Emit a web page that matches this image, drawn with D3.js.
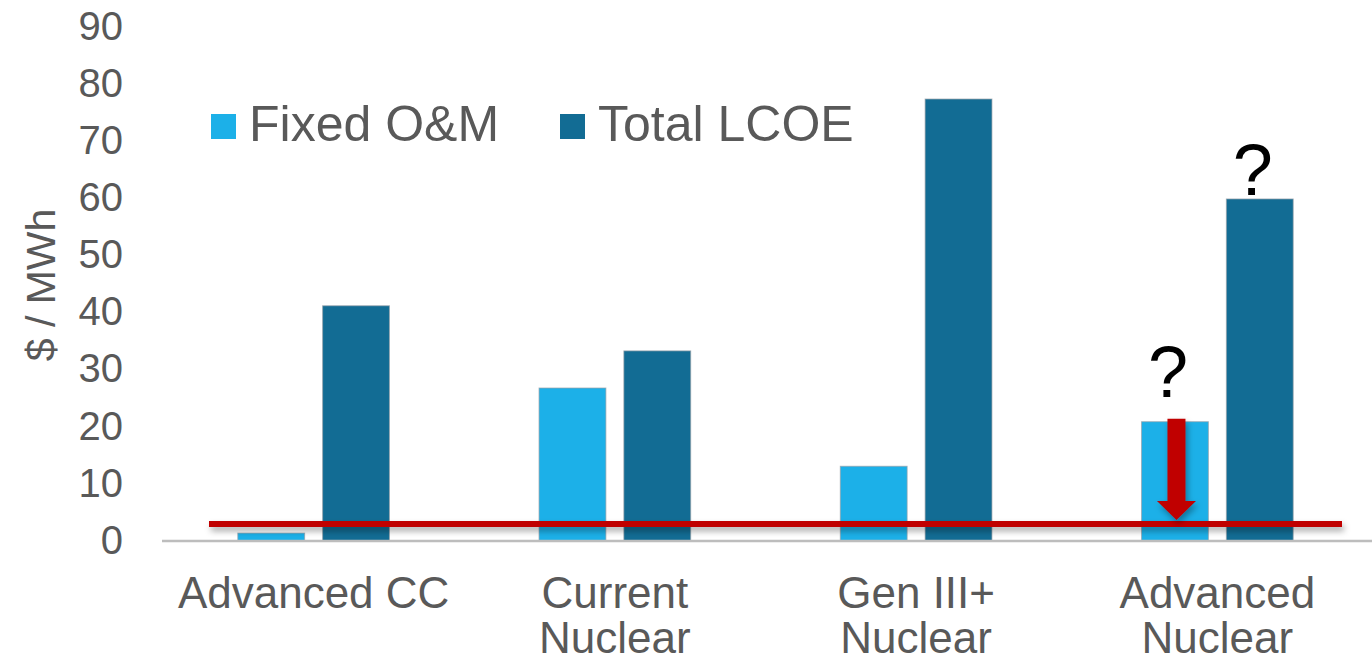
<!DOCTYPE html>
<html>
<head>
<meta charset="utf-8">
<script src="https://cdn.jsdelivr.net/npm/d3@7"></script>
<style>
  html, body { margin: 0; padding: 0; background: #ffffff; }
  svg { display: block; font-family: "Liberation Sans", Arial, sans-serif; }
</style>
</head>
<body>
<svg id="chart" width="1372" height="661"></svg>
<script>
// Cost components per technology ($ / MWh)
const categories = ["Advanced CC", "Current Nuclear", "Gen III+ Nuclear", "Advanced Nuclear"];
const categoryLines = [["Advanced CC"], ["Current", "Nuclear"], ["Gen III+", "Nuclear"], ["Advanced", "Nuclear"]];
const seriesNames = ["Fixed O&M", "Total LCOE"];
const fixedOM = [1.3, 26.7, 13.0, 20.8];
const totalLCOE = [41.1, 33.2, 77.3, 59.8];
const yTicks = [0, 10, 20, 30, 40, 50, 60, 70, 80, 90];
// Target level for fixed O&M
const targetLevel = 2.9;
const colors = ["#1cb0e8", "#126c94"];

const svg = d3.select("#chart");
const textGray = "#595959";

const y = d3.scaleLinear().domain([0, 90]).range([540.5, 26.5]);
const x0 = d3.scaleBand().domain(categories).range([163, 1368]).padding(0);
const x1 = d3.scaleBand().domain(seriesNames).range([0, x0.bandwidth()])
  .paddingInner(0.212).paddingOuter(0.882);

// Drop shadow used by the red annotations (user-space region so thin lines still render)
const defs = svg.append("defs");
const f = defs.append("filter").attr("id", "shadow")
  .attr("filterUnits", "userSpaceOnUse")
  .attr("x", 0).attr("y", 0).attr("width", 1372).attr("height", 661);
f.append("feDropShadow").attr("dx", 2).attr("dy", 4).attr("stdDeviation", 3)
  .attr("flood-color", "#000").attr("flood-opacity", 0.35);

// Y axis tick labels
const yAxis = svg.append("g").attr("transform", "translate(123,0)")
  .call(d3.axisLeft(y).tickValues(yTicks).tickSize(0).tickPadding(0));
yAxis.select(".domain").remove();
yAxis.selectAll("text")
  .attr("fill", textGray)
  .style("font-size", "40px")
  .style("font-family", "'Liberation Sans', Arial, sans-serif");

// Y axis title
svg.append("text")
  .attr("transform", "translate(55,285) rotate(-90)")
  .attr("text-anchor", "middle")
  .attr("fill", textGray)
  .style("font-size", "41px")
  .text("$ / MWh");

// Bars
const rows = categories.map((c, i) => ({ cat: c, values: [fixedOM[i], totalLCOE[i]] }));
const groups = svg.append("g").selectAll("g").data(rows).join("g")
  .attr("transform", d => `translate(${x0(d.cat)},0)`);
groups.selectAll("rect")
  .data(d => d.values.map((v, k) => ({ key: seriesNames[k], v, k })))
  .join("rect")
  .attr("x", d => x1(d.key))
  .attr("width", x1.bandwidth())
  .attr("y", d => y(d.v))
  .attr("height", d => y(0) - y(d.v))
  .attr("fill", d => colors[d.k])
  .attr("stroke", "rgba(150,160,168,0.7)")
  .attr("stroke-width", 1);

// Baseline
svg.append("line")
  .attr("x1", 162).attr("x2", 1372)
  .attr("y1", y(0) + 0.5).attr("y2", y(0) + 0.5)
  .attr("stroke", "#bdbdbd").attr("stroke-width", 2.5);

// Category labels
const xAxis = svg.append("g").attr("transform", `translate(0,${y(0)})`)
  .call(d3.axisBottom(x0).tickSize(0).tickFormat(""));
xAxis.select(".domain").remove();
xAxis.selectAll(".tick").each(function(d, i) {
  const t = d3.select(this).append("text")
    .attr("text-anchor", "middle")
    .attr("fill", textGray)
    .style("font-size", "44px")
    .style("font-family", "'Liberation Sans', Arial, sans-serif");
  categoryLines[i].forEach((line, j) => {
    t.append("tspan").attr("x", 0).attr("y", 67.5 + j * 45).text(line);
  });
});

// Target line
svg.append("line")
  .attr("x1", 209).attr("x2", 1342)
  .attr("y1", y(targetLevel)).attr("y2", y(targetLevel))
  .attr("stroke", "#c00000").attr("stroke-width", 6)
  .attr("filter", "url(#shadow)");

// Arrow from the advanced nuclear fixed O&M down to the target
const last = categories.length - 1;
const ax = x0(categories[last]) + x1(seriesNames[0]) + x1.bandwidth() / 2 + 1.5;
const aTop = y(fixedOM[last]) - 3;
const aTip = y(targetLevel) - 4;
const shaftW = 18, headW = 39, headL = 19;
const arrowPath = d3.path();
arrowPath.moveTo(ax - shaftW / 2, aTop);
arrowPath.lineTo(ax + shaftW / 2, aTop);
arrowPath.lineTo(ax + shaftW / 2, aTip - headL);
arrowPath.lineTo(ax + headW / 2, aTip - headL);
arrowPath.lineTo(ax, aTip);
arrowPath.lineTo(ax - headW / 2, aTip - headL);
arrowPath.lineTo(ax - shaftW / 2, aTip - headL);
arrowPath.closePath();
svg.append("path").attr("d", arrowPath.toString())
  .attr("fill", "#c00000").attr("filter", "url(#shadow)");

// Question marks over the advanced nuclear bars
const qOffsets = [25, 4];
[fixedOM[last], totalLCOE[last]].forEach((v, k) => {
  svg.append("text")
    .attr("x", x0(categories[last]) + x1(seriesNames[k]) + x1.bandwidth() / 2 - 7)
    .attr("y", y(v) - qOffsets[k])
    .attr("text-anchor", "middle")
    .attr("fill", "#000")
    .style("font-size", "72px")
    .text("?");
});

// Legend
const legendX = [211, 560];
seriesNames.forEach((name, k) => {
  svg.append("rect")
    .attr("x", legendX[k]).attr("y", 114)
    .attr("width", 25).attr("height", 25)
    .attr("fill", colors[k]);
  svg.append("text")
    .attr("x", legendX[k] + 38).attr("y", 141)
    .attr("fill", textGray)
    .style("font-size", "50px")
    .text(name);
});
</script>
</body>
</html>
